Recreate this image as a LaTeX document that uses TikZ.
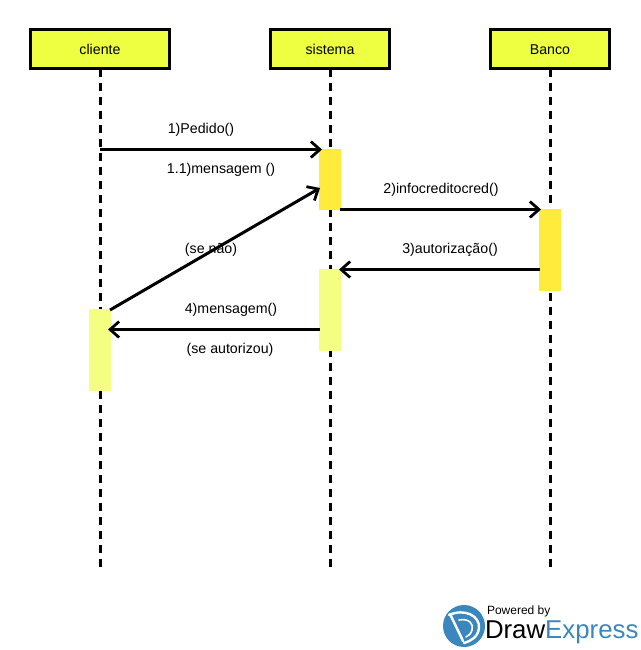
\documentclass[tikz,border=0pt]{standalone}
\usepackage{fontspec}
\setmainfont{Liberation Sans}
\usetikzlibrary{arrows.meta}
\definecolor{headfill}{HTML}{EEFF41}
\definecolor{baron}{HTML}{FFEB3B}
\definecolor{baroff}{HTML}{F4FF81}
\definecolor{logoblue}{HTML}{3A87BE}
\tikzset{
	every node/.style={align=center,outer sep=0pt},
	head/.style={draw=black,line width=3pt,fill=headfill,minimum height=39pt,inner sep=0pt,font=\fontsize{14.2}{16}\selectfont},
	lifeline/.style={black,line width=3pt,dash pattern=on 8pt off 6pt},
	activebar/.style={fill=baron,minimum width=22pt,inner sep=0pt},
	idlebar/.style={fill=baroff,minimum width=22pt,inner sep=0pt},
	msg/.style={black,line width=3pt,-{Straight Barb[length=9pt,width=16pt,line width=2.8pt]}},
	lbl/.style={inner sep=0pt,font=\fontsize{14.2}{16}\selectfont}
}
\begin{document}
\begin{tikzpicture}[x=1pt,y=-1pt]
	\useasboundingbox (0,0) rectangle (640,650);
	% Lifelines
	\node (cliente) [head, minimum width=139pt] at (100,49.5) {cliente};
	\node (sistema) [head, minimum width=119pt] at (330,49.5) {sistema};
	\node (banco) [head, minimum width=119pt] at (550,49.5) {Banco};
	\coordinate (clienteEnd) at (100,568);
	\coordinate (sistemaEnd) at (330,568);
	\coordinate (bancoEnd) at (550,568);
	\draw[lifeline] (cliente.south) -- (clienteEnd);
	\draw[lifeline] (sistema.south) -- (sistemaEnd);
	\draw[lifeline] (banco.south) -- (bancoEnd);
	
	% Activation bars
	\node (barS1) [activebar, minimum height=61pt] at (330,179.5) {};
	\node (barB) [activebar, minimum height=82pt] at (550,250) {};
	\node (barS2) [idlebar, minimum height=82pt] at (330,310) {};
	\node (barC) [idlebar, minimum height=82pt] at (100,350) {};
	
	% Messages
	\coordinate (m1a) at (100,149.5);
	\coordinate (m1b) at (322,149.5);
	\coordinate (m2a) at (340,209.5);
	\coordinate (m2b) at (541,209.5);
	\coordinate (m3a) at (540,269.5);
	\coordinate (m3b) at (339,269.5);
	\coordinate (m4a) at (320,329.5);
	\coordinate (m4b) at (108,329.5);
	\coordinate (m5a) at (110,310);
	\coordinate (m5b) at (320,188);
	\draw[msg] (m1a) -- (m1b);
	\draw[msg] (m2a) -- (m2b);
	\draw[msg] (m3a) -- (m3b);
	\draw[msg] (m4a) -- (m4b);
	\draw[msg] (m5a) -- (m5b);
	
	\node (l1) [lbl] at (201,129.5) {1)Pedido()};
	\node (l11) [lbl] at (221,169.5) {1.1)mensagem ()};
	\node (l2) [lbl] at (441,189.5) {2)infocreditocred()};
	\node (l3) [lbl] at (450,249.5) {3)autorização()};
	\node (l4) [lbl] at (231,309.5) {4)mensagem()};
	\node (l5) [lbl] at (211,249.5) {(se não)};
	\node (l6) [lbl] at (230,349.5) {(se autorizou)};
	
	% Logo
	\fill[logoblue] (464,626) circle (21);
	\draw[white,line width=2.4pt,line cap=round,line join=round] (450,614) -- (463,641) (449,615) .. controls (465,608) and (480,616) .. (479,628) .. controls (478,637) and (471,641) .. (464,643);
	\draw[white,line width=1.6pt,line cap=round] (459,620) .. controls (469,618) and (474,624) .. (472,630) .. controls (471,634) and (468,636) .. (466,637);
	\node (powered) [anchor=base west,inner sep=0pt,font=\fontsize{12}{14}\selectfont] at (487,614) {Powered by};
	\node (brand) [anchor=base west,inner sep=0pt,font=\fontsize{25.8}{28}\selectfont] at (485,638) {Draw\textcolor{logoblue}{Express}};
\end{tikzpicture}
\end{document}
